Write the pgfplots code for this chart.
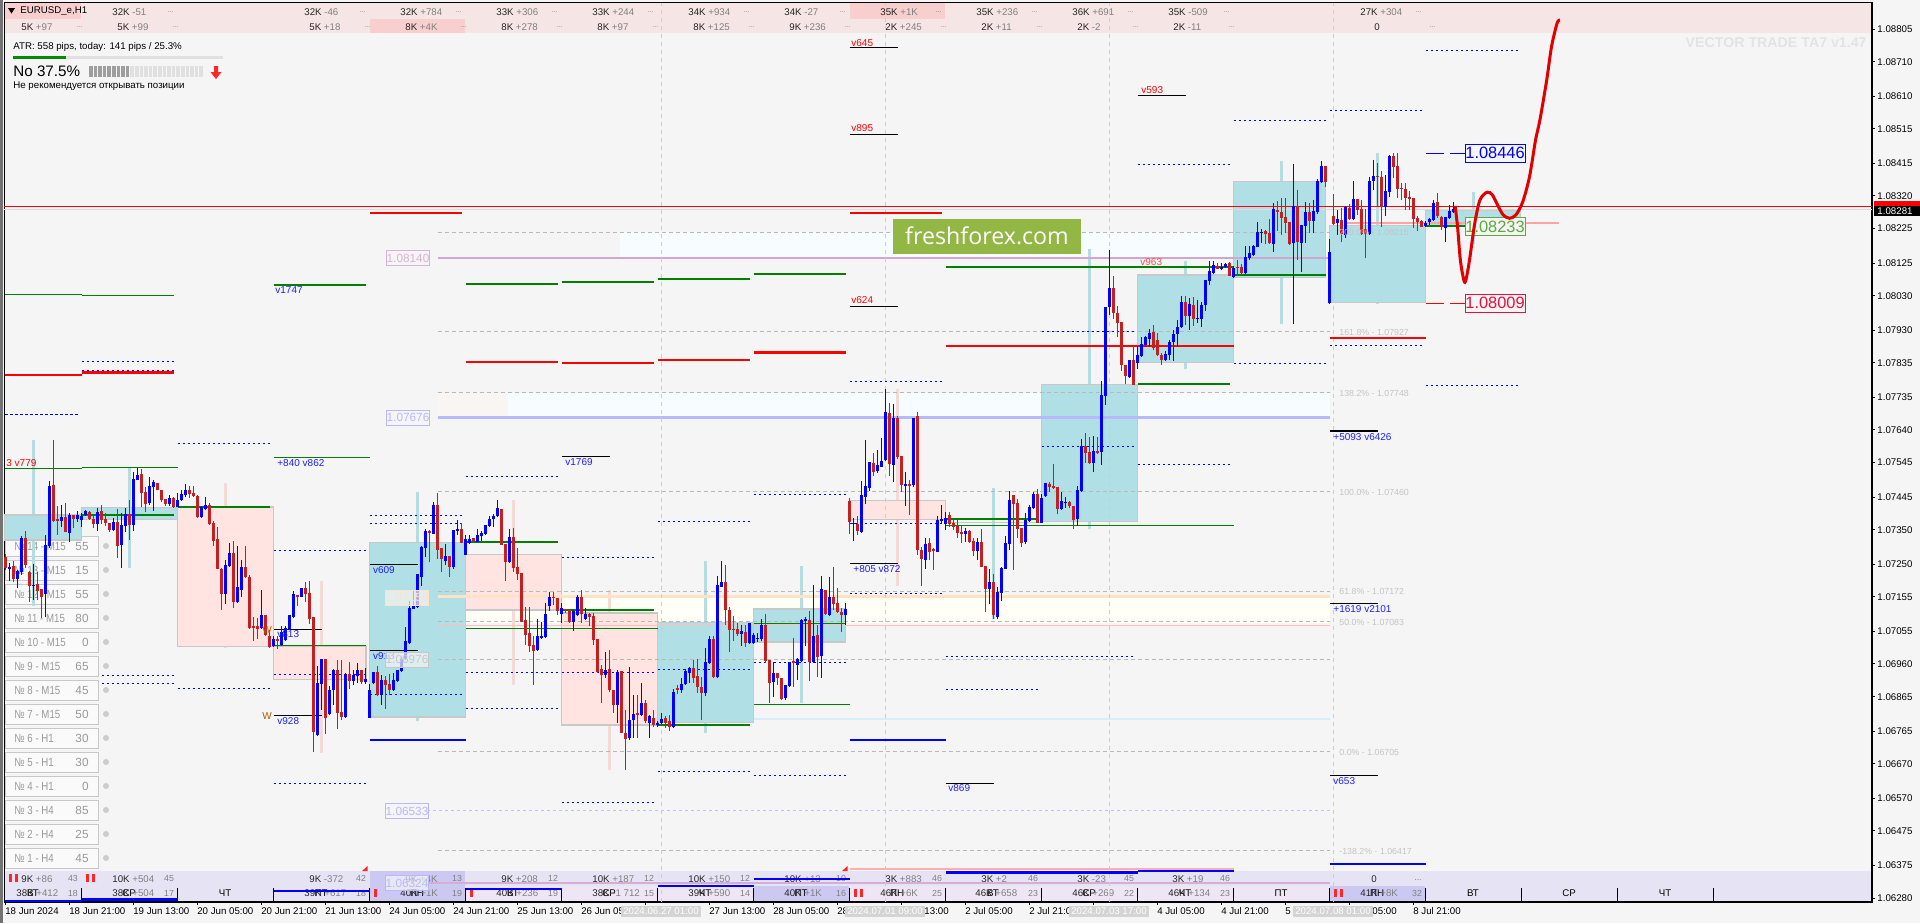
\documentclass[border=0pt]{standalone}
\usepackage{fontspec}
\setmainfont{Liberation Sans}
\newfontfamily\ffont{Open Sans}
\usepackage{pgfplots}
\usepackage{pgfplotstable}
\pgfplotsset{compat=1.18}

\definecolor{bg}{HTML}{F5F5F5}
\definecolor{panelt}{HTML}{F6E5E5}
\definecolor{panelh}{HTML}{F8CFCF}
\definecolor{panelb}{HTML}{E6E4F4}
\definecolor{panelc}{HTML}{EFE6F5}
\definecolor{panelv}{HTML}{CBC8F2}
\definecolor{teal}{HTML}{B0DFE5}
\definecolor{pinkbox}{HTML}{FFE4E1}
\definecolor{wteal}{HTML}{B4DDE2}
\definecolor{wpink}{HTML}{F6D8D4}
\definecolor{edge}{HTML}{C8C8C8}
\definecolor{barred}{HTML}{C4201F}
\definecolor{wickred}{HTML}{A52A2A}
\definecolor{gline}{HTML}{007F00}
\definecolor{fib}{HTML}{B8B8B8}
\definecolor{fibt}{HTML}{C4C4C4}
\definecolor{txtg}{HTML}{808080}
\definecolor{boxt}{HTML}{9A9A9A}
\definecolor{vtext}{HTML}{2020FF}
\definecolor{ffgreen}{HTML}{93B744}
\definecolor{tgreen}{HTML}{5BAA3C}
\definecolor{tred}{HTML}{E8103C}
\definecolor{palezone}{HTML}{F8F5F3}

% candles: bar index, then open high low close in points above 1.00000
\pgfplotstableread{
b o h l c
0 7272 7280 7233 7238
1 7236 7252 7202 7243
2 7245 7259 7199 7206
3 7206 7232 7180 7230
4 7228 7332 7219 7327
5 7327 7346 7238 7248
6 7228 7230 7141 7187
7 7187 7250 7146 7190
8 7193 7228 7146 7173
9 7177 7177 7093 7156
10 7163 7335 7097 7306
11 7303 7492 7296 7477
12 7480 7611 7373 7376
13 7381 7419 7335 7376
14 7376 7422 7359 7387
15 7387 7427 7344 7344
16 7342 7398 7315 7393
17 7392 7392 7354 7381
18 7381 7404 7373 7393
19 7378 7400 7359 7391
20 7393 7407 7391 7404
21 7403 7405 7378 7380
22 7380 7393 7354 7367
23 7367 7413 7347 7402
24 7404 7422 7367 7378
25 7381 7398 7361 7369
26 7371 7371 7344 7349
27 7349 7383 7347 7372
28 7372 7410 7269 7303
29 7306 7398 7240 7364
30 7361 7412 7344 7396
31 7396 7436 7320 7364
32 7364 7519 7346 7497
33 7495 7530 7495 7509
34 7512 7527 7417 7458
35 7460 7475 7403 7425
36 7427 7502 7422 7477
37 7473 7495 7404 7490
38 7485 7485 7465 7465
39 7465 7467 7432 7436
40 7439 7439 7419 7425
41 7425 7451 7419 7443
42 7443 7446 7412 7415
43 7415 7458 7415 7436
44 7436 7467 7434 7454
45 7451 7483 7446 7465
46 7465 7477 7441 7454
47 7456 7477 7444 7448
48 7448 7451 7383 7388
49 7386 7419 7383 7417
50 7410 7444 7407 7422
51 7422 7429 7364 7366
52 7369 7376 7303 7318
53 7322 7359 7237 7237
54 7236 7238 7117 7163
55 7163 7262 7135 7248
56 7245 7311 7243 7282
57 7282 7316 7122 7139
58 7139 7304 7136 7183
59 7175 7262 7156 7241
60 7241 7303 7209 7212
61 7212 7219 7061 7066
62 7071 7098 7028 7066
63 7071 7093 7033 7063
64 7066 7175 7064 7101
65 7103 7103 7040 7044
66 7042 7059 7006 7009
67 7011 7040 7009 7032
68 7032 7040 7004 7026
69 7015 7071 7013 7052
70 7030 7069 7028 7064
71 7062 7103 7059 7101
72 7098 7171 7095 7164
73 7161 7161 7129 7156
74 7154 7182 7154 7182
75 7182 7197 7141 7164
76 7166 7202 7077 7091
77 7097 7097 6703 6761
78 6754 6953 6751 6904
79 6902 6975 6827 6975
80 6975 6975 6757 6804
81 6814 6895 6812 6885
82 6883 6946 6841 6943
83 6943 6972 6772 6819
84 6820 6972 6796 6807
85 6805 6933 6802 6930
86 6930 6967 6888 6911
87 6911 6943 6899 6928
88 6924 6962 6906 6943
89 6943 6943 6902 6909
90 6907 6948 6902 6917
91 6804 6902 6804 6885
92 6904 6938 6902 6936
93 6937 6953 6867 6870
94 6870 6928 6841 6914
95 6914 6924 6830 6899
96 6902 6931 6870 6885
97 6885 6933 6883 6914
98 6911 6943 6909 6943
99 6941 6980 6938 6975
100 6975 7067 6972 7027
101 7020 7143 7018 7122
102 7120 7175 7120 7129
103 7126 7222 7124 7222
104 7214 7304 7188 7301
105 7296 7352 7270 7347
106 7345 7348 7255 7342
107 7338 7431 7338 7422
108 7422 7458 7265 7292
109 7296 7296 7226 7265
110 7258 7308 7249 7274
111 7274 7274 7214 7241
112 7241 7350 7235 7350
113 7347 7379 7335 7352
114 7352 7369 7311 7313
115 7278 7335 7278 7323
116 7313 7335 7311 7323
117 7326 7326 7311 7316
118 7314 7352 7314 7335
119 7333 7345 7316 7340
120 7338 7364 7335 7364
121 7361 7390 7359 7380
122 7380 7396 7357 7390
123 7390 7437 7386 7412
124 7410 7410 7306 7306
125 7309 7309 7201 7256
126 7256 7351 7253 7330
127 7328 7354 7226 7240
128 7241 7296 7204 7222
129 7224 7224 7083 7083
130 7088 7127 7015 7044
131 7049 7127 6996 7012
132 7015 7040 6899 6998
133 7001 7091 6999 7040
134 7036 7083 7035 7042
135 7038 7136 7035 7105
136 7129 7170 7114 7154
137 7156 7170 7132 7153
138 7151 7151 7103 7114
139 7105 7136 7078 7122
140 7120 7120 7107 7117
141 7117 7117 7080 7082
142 7083 7117 7057 7115
143 7103 7161 7101 7156
144 7156 7175 7080 7105
145 7091 7122 7088 7105
146 7105 7109 7069 7098
147 7100 7107 7015 7030
148 7033 7033 6933 6938
149 6945 6957 6846 6928
150 6928 6996 6920 6943
151 6946 7001 6880 6883
152 6885 6885 6817 6841
153 6841 6943 6788 6938
154 6940 6940 6759 6759
155 6759 6827 6652 6742
156 6744 6950 6739 6797
157 6797 6870 6744 6815
158 6817 6870 6744 6812
159 6812 6906 6809 6846
160 6846 6856 6790 6793
161 6788 6812 6746 6809
162 6803 6827 6776 6782
163 6783 6793 6776 6790
164 6788 6817 6786 6800
165 6803 6809 6773 6790
166 6793 6812 6764 6776
167 6776 6887 6773 6880
168 6889 6899 6873 6885
169 6885 6918 6875 6901
170 6901 6945 6899 6941
171 6933 6950 6904 6948
172 6948 6972 6904 6920
173 6925 6974 6875 6892
174 6892 6923 6797 6877
175 6875 7006 6867 6967
176 6964 7040 6962 7034
177 7034 7040 6919 6921
178 6921 7216 6919 7190
179 7185 7259 7185 7197
180 7197 7248 7073 7117
181 7117 7127 6996 7059
182 7062 7100 7027 7059
183 7062 7080 7040 7047
184 7047 7073 7012 7055
185 7054 7073 7009 7022
186 7022 7079 7020 7079
187 7022 7049 7020 7044
188 7033 7049 7023 7035
189 7032 7090 7026 7072
190 7072 7105 6964 6968
191 6972 6972 6848 6906
192 6908 6967 6865 6934
193 6933 6933 6899 6918
194 6919 6919 6854 6857
195 6860 6899 6854 6899
196 6896 6967 6894 6965
197 6969 7035 6894 6964
198 6957 6977 6914 6975
199 6968 7090 6965 7088
200 7086 7098 7011 7091
201 7088 7114 6912 6967
202 6967 7190 6964 7042
203 7044 7073 6921 6981
204 6983 7216 6919 7178
205 7175 7175 7103 7104
206 7103 7214 7101 7156
207 7156 7241 7117 7133
208 7137 7180 7109 7112
209 7112 7122 7054 7103
210 7101 7136 7072 7120
211 7433 7441 7339 7373
212 7368 7383 7318 7369
213 7368 7391 7335 7345
214 7344 7491 7341 7451
215 7446 7611 7424 7477
216 7472 7547 7463 7547
217 7544 7572 7507 7518
218 7521 7582 7516 7538
219 7533 7616 7533 7550
220 7552 7759 7551 7693
221 7689 7719 7506 7542
222 7538 7715 7490 7675
223 7675 7681 7557 7560
224 7564 7564 7459 7480
225 7477 7519 7420 7483
226 7483 7494 7393 7477
227 7479 7675 7475 7675
228 7680 7693 7276 7291
229 7291 7301 7186 7265
230 7262 7325 7236 7308
231 7312 7325 7262 7285
232 7293 7296 7233 7289
233 7286 7390 7286 7378
234 7376 7422 7370 7381
235 7368 7402 7349 7383
236 7393 7402 7359 7366
237 7370 7378 7349 7359
238 7362 7378 7327 7341
239 7343 7362 7312 7338
240 7338 7354 7314 7346
241 7347 7349 7312 7314
242 7317 7327 7274 7288
243 7288 7325 7262 7314
244 7315 7352 7241 7243
245 7245 7245 7112 7179
246 7179 7235 7134 7198
247 7198 7221 7092 7102
248 7097 7183 7092 7170
249 7167 7243 7144 7240
250 7236 7333 7236 7311
251 7308 7462 7291 7436
252 7451 7451 7233 7425
253 7428 7438 7327 7352
254 7356 7356 7301 7311
255 7314 7400 7308 7378
256 7375 7422 7372 7416
257 7413 7460 7410 7454
258 7454 7468 7369 7369
259 7369 7454 7369 7442
260 7448 7486 7445 7486
261 7483 7489 7459 7474
262 7477 7541 7468 7470
263 7474 7475 7396 7410
264 7411 7461 7408 7435
265 7427 7445 7413 7430
266 7432 7435 7413 7418
267 7419 7419 7352 7379
268 7381 7478 7361 7466
269 7464 7613 7462 7592
270 7592 7631 7545 7574
271 7576 7619 7542 7543
272 7543 7623 7518 7579
273 7579 7621 7570 7572
274 7576 7781 7539 7742
275 7739 7997 7713 7997
276 7997 8163 7974 8052
277 8052 8088 7963 7979
278 7981 7999 7911 7950
279 7954 7954 7810 7829
280 7829 7829 7773 7797
281 7793 7844 7790 7844
282 7844 7882 7771 7771
283 7836 7884 7818 7858
284 7855 7910 7853 7890
285 7887 7913 7881 7909
286 7905 7933 7880 7921
287 7924 7944 7873 7878
288 7902 7921 7855 7858
289 7858 7863 7829 7844
290 7844 7868 7842 7861
291 7858 7902 7842 7897
292 7895 7931 7841 7919
293 7919 7960 7882 7939
294 7938 8028 7936 8013
295 8011 8028 7945 7972
296 7970 8023 7931 8005
297 8003 8025 7942 7963
298 7964 8018 7950 7966
299 7963 8013 7939 8003
300 8002 8076 7986 8076
301 8074 8131 8062 8102
302 8097 8132 8095 8120
303 8117 8125 8107 8109
304 8108 8125 8105 8114
305 8113 8126 8110 8122
306 8125 8129 8086 8088
307 8083 8115 8081 8112
308 8114 8134 8091 8111
309 8114 8123 8086 8097
310 8095 8175 8093 8143
311 8140 8175 8134 8155
312 8149 8178 8147 8175
313 8172 8243 8172 8216
314 8212 8225 8183 8216
315 8217 8221 8181 8210
316 8213 8253 8181 8183
317 8181 8299 8157 8282
318 8278 8304 8217 8272
319 8274 8313 8207 8255
320 8259 8313 8212 8241
321 8243 8243 8178 8181
322 8184 8413 7948 8291
323 8290 8338 8134 8185
324 8183 8236 8100 8236
325 8233 8302 8183 8274
326 8274 8299 8212 8248
327 8248 8309 8212 8275
328 8274 8369 8268 8364
329 8361 8422 8357 8407
330 8407 8407 8347 8361
331 8008 8195 8006 8157
332 8262 8326 8236 8239
333 8242 8278 8207 8253
334 8250 8284 8185 8210
335 8207 8291 8197 8289
336 8285 8297 8250 8253
337 8253 8362 8250 8311
338 8311 8311 8265 8280
339 8282 8309 8207 8210
340 8224 8281 8141 8210
341 8210 8376 8207 8364
342 8364 8425 8338 8378
343 8378 8415 8289 8374
344 8375 8391 8229 8289
345 8289 8381 8262 8335
346 8332 8439 8316 8437
347 8436 8446 8371 8405
348 8407 8444 8315 8341
349 8342 8359 8309 8340
350 8340 8357 8278 8314
351 8317 8333 8280 8311
352 8314 8314 8228 8253
353 8255 8262 8217 8243
354 8246 8250 8229 8231
355 8233 8246 8231 8241
356 8245 8255 8236 8253
357 8250 8309 8249 8299
358 8303 8328 8255 8262
359 8260 8262 8221 8229
360 8228 8259 8185 8259
361 8256 8294 8254 8277
362 8274 8303 8272 8281
}\candles

% horizontal levels: from bar, to bar, price in points
\pgfplotstableread{
a b p
-0.1 18.6 7685
43 66 7601
115 138 7505
91 114 7392
91 114 7369
67 90 7290
24 42 6927
24 42 6904
19 42 7840
19 42 7814
67 90.6 6930
43 66 6889
91 114 6872
115 138 6936
115 138 6831
67 90 6613
163 186 7375
139 162 7270
139 162 6936
163 186 6945
163 186 6648
139 162 6558
187 210 7453
187 210 6965
187 210 6637
211 234 7369
211 234 7165
235 282 6982
235 258 6886
211 234 7781
307 330 8540
283 306 8412
307 330 7834
259 282 7927
259 282 7592
283 306 7540
331 354 7886
355 378 8744
331 354 8567
355 378 7770
}\dashblue
\pgfplotstableread{
a b p
108 331 8215
108 331 7927
108 331 7748
108 331 7460
108 331 7172
108 331 7083
108 331 6973
108 331 6705
108 331 6417
}\fiblines
\pgfplotstableread{
a b p
0 19 7529
19 43 7531
67 91 7561
67 90 7014
115 163 7064
187 211 6843
187 210 7078
235 307 7363
0 19 8035
19 42 8032
}\greenthin
\pgfplotstableread{
a b p
19 42 7393
43 66 7417
115 138 7314
139 162 7117
163 186 6783
235 258 7381
235 307 8114
283 306 7773
307 330 8090
355 365 8233
67 90 8061
115 138 8064
139 162 8071
163 186 8079
187 210 8093
}\greenthick
\pgfplotstableread{
a b p
0 19 7800
19 42 7807
91 114 8270
115 138 7837
139 162 7835
163 186 7843
187 210 7865
211 234 8270
235 307 7884
331 355 7907
}\redthick
\pgfplotstableread{
a b p
91 115 6739
211 235 6739
331 355 6380
0 19 6272
19 43 6276
67 91 6301
115 139 6306
163 187 6316
187 211 6335
235 283 6354
283 307 6358
}\bluethick
\pgfplotstableread{
a b p
211 223 8750
211 223 8498
283 295 8612
211 223 8000
139 151 7564
91 103 7250
91 103 7000
67 79 7061
67 79 6811
211 223 7251
235 247 6613
331 343 7637
331 343 7136
331 343 6637
}\blackshort
% wide candles of the higher timeframe, bar, high, low
\pgfplotstableread{
b h l
7 7611 7128
31 7530 7239
103 7461 6795
175 7260 6760
199 7245 6847
247 7471 7091
271 8166 7352
295 8132 7817
319 8422 7948
343 8446 8006
367 8332 8180
}\tealwicks
\pgfplotstableread{
b h l
55 7486 7006
79 7201 6701
127 7436 6899
151 7175 6652
223 7760 7187
}\pinkwicks
% forecast curve
\pgfplotstableread{
x y
362.4 8291
363 8231
363.7 8134
364.6 8074
365.1 8076
366 8134
367.3 8240
368.6 8308
370.4 8331
371.7 8323
373 8294
374.4 8265
376 8255
377.6 8265
379.3 8303
381 8376
382.5 8482
383.6 8541
385.3 8657
386.5 8754
387.9 8822
388.6 8831
}\forecast

\newcommand\levels[2]{\addplot[draw=none,no markers,forget plot,
  error bars/x dir=plus,error bars/x explicit,error bars/error mark=none,
  error bars/error bar style={line cap=butt,#1}]
  table[x=a,y=p,x error plus expr=\thisrow{b}-\thisrow{a}] {#2};}
\newcommand\hlev[4]{\addplot[forget plot,line cap=butt,#1] coordinates {(#2,#4)(#3,#4)};}
\newcommand\vdsh[1]{\addplot[forget plot,color=edge!90!white,line width=.5pt,dash pattern=on 2pt off 2pt] coordinates {(#1,6269)(#1,8881)};}
\newcommand\rect[6]{\addplot[forget plot,draw=#1,fill=#2,line width=.6pt] coordinates {(#3,#5)(#4,#5)(#4,#6)(#3,#6)} --cycle;}
\newcommand\hwicks[2]{\addplot[draw=none,no markers,forget plot,
  error bars/y dir=plus,error bars/y explicit,error bars/error mark=none,
  error bars/error bar style={line cap=butt,draw=#1,line width=1.4pt}]
  table[x=b,y=l,y error plus expr=\thisrow{h}-\thisrow{l}] {#2};}

\newcommand\smalltxt{\fontsize{4.85}{5.5}\selectfont}
\newcommand\boxtxt{\fontsize{5.9}{6.5}\selectfont}
\newcommand\topcell[4]{\node[anchor=west,inner sep=0pt] at (#1,#2) {\smalltxt\textcolor{black!85}{#3} \textcolor{txtg}{#4}};
  \node[anchor=west,inner sep=0pt,text=txtg] at (#1+55,#2) {\fontsize{3.6}{4}\selectfont ...};}
\newcommand\botcell[5]{\node[anchor=west,inner sep=0pt] at (#1,#2) {\smalltxt\textcolor{black!85}{#3} \textcolor{txtg}{#4}};}
\newcommand\num[3]{\node[inner sep=0pt,text=txtg] at (#1,#2) {\fontsize{4.4}{5}\selectfont #3};}
\newcommand\pausebar[2]{\fill[red!85!white] (#1,#2-4) rectangle (#1+3,#2+4);}
\newcommand\fibl[2]{\node[anchor=west,inner sep=0pt,text=fibt] at (1339,#1) {\fontsize{4.4}{5}\selectfont #2};}
\newcommand\vlab[3]{\node[anchor=west,inner sep=0pt,text=#1] at (#2) {\fontsize{5}{6}\selectfont #3};}
\newcommand\pricebox[4]{\node[draw=#1,line width=.5pt,fill=bg,minimum width=30pt,minimum height=9pt,inner sep=0pt,text=#2] at (#3) {\fontsize{8.2}{9}\selectfont #4};}
\newcommand\hlab[3]{\node[draw=#1,fill=bg,fill opacity=.7,text opacity=1,text=#1,line width=.5pt,minimum width=21pt,minimum height=7.5pt,inner sep=0pt] at (#2) {\fontsize{5.9}{6.5}\selectfont #3};}
\newcommand\datetag[2]{\node[fill=black!17,text=white,minimum width=40pt,minimum height=5.5pt,inner sep=0pt] at (#1,911.5) {\smalltxt #2};}

\begin{document}
\begin{tikzpicture}
\path[use as bounding box] (0,0) rectangle (960pt,-461.5pt);
\begin{scope}[x=.5pt,y=-.5pt]
\fill[bg] (0,0) rectangle (1920,923);
\fill[black!55] (0,0) rectangle (2.5,923);
% upper panel
\fill[panelt] (4.5,3) rectangle (1872,33);
\fill[panelh] (5,3) rectangle (81,19);
\fill[panelh] (850,3) rectangle (945,19);
\fill[panelh] (370,19) rectangle (465,33);
\fill[black] (8,8) -- (15,8) -- (11.5,13.5) -- cycle;
\node[anchor=west,inner sep=0pt] at (20,11.5) {\smalltxt EURUSD\_e,H1};
\foreach \x/\a/\b in {112/32K/-51,304/32K/-46,400/32K/+784,496/33K/+306,592/33K/+244,688/34K/+934,784/34K/-27,880/35K/+1K,976/35K/+236,1072/36K/+691,1168/35K/-509,1360/27K/+304}{\topcell{\x}{11.7}{\a}{\b}}
\foreach \x/\a/\b in {21/5K/+97,117/5K/+99,309/5K/+18,405/8K/+4K,501/8K/+278,597/8K/+97,693/8K/+125,789/9K/+236,885/2K/+245,981/2K/+11,1077/2K/-2,1173/2K/-11}{\topcell{\x}{26.7}{\a}{\b}}
\topcell{1374}{26.7}{0}{}
% info block
\node[anchor=west,inner sep=0pt] at (13,47) {\smalltxt ATR: 558 pips, today: 141 pips / 25.3\%};
\fill[black!12] (13,56) rectangle (223,59);
\fill[green!55!black] (13,56) rectangle (66,59);
\node[anchor=west,inner sep=0pt] at (13,71.5) {\fontsize{7.6}{8}\selectfont No 37.5\%};
\foreach \i in {0,...,24}{\pgfmathsetmacro\xa{89+4.6*\i}
  \ifnum\i<9 \fill[black!38] (\xa,66) rectangle (\xa+3.6,77); \else \fill[black!12] (\xa,66) rectangle (\xa+3.6,77); \fi}
\fill[red!85!white] (214,66) rectangle (218,72) (210.5,72) -- (221.5,72) -- (216,79) -- cycle;
\node[anchor=west,inner sep=0pt] at (13,86) {\smalltxt Не рекомендуется открывать позиции};
\node[anchor=east,inner sep=0pt,text=black!11] at (1867,43) {\fontsize{7.1}{8}\selectfont\bfseries VECTOR TRADE TA7 v1.47};
% lower panel
\fill[panelb] (4.5,871) rectangle (1872,902);
\fill[panelc] (370,886) rectangle (1333,902);
\fill[panelv] (370,871) rectangle (465,901);
\fill[panelv] (754,886) rectangle (849,901);
\fill[panelv] (1330,886) rectangle (1425,901);
\foreach \x in {81.5,177.5,...,1714}{\draw[black,line width=.5pt] (\x,888) -- (\x,902);}
\foreach \x/\t in {33/ВТ,129/СР,225/ЧТ,321/ПТ,417/ПН,513/ВТ,609/СР,705/ЧТ,801/ПТ,897/ПН,993/ВТ,1089/СР,1185/ЧТ,1281/ПТ,1377/ПН,1473/ВТ,1569/СР,1665/ЧТ}{\node[inner sep=0pt] at (\x,892.7) {\smalltxt\t};}
\botcell{21}{878.7}{9K}{+86}{0}\num{73}{878.7}{43}
\botcell{112}{878.7}{10K}{+504}{0}\num{169}{878.7}{45}
\botcell{309}{878.7}{9K}{-372}{0}\num{361}{878.7}{42}
\botcell{405}{878.7}{9K}{+4K}{0}\num{457}{878.7}{13}
\botcell{501}{878.7}{9K}{+208}{0}\num{553}{878.7}{12}
\botcell{592}{878.7}{10K}{+187}{0}\num{649}{878.7}{12}
\botcell{688}{878.7}{10K}{+150}{0}\num{745}{878.7}{12}
\botcell{784}{878.7}{10K}{+13}{0}\num{841}{878.7}{10}
\botcell{885}{878.7}{3K}{+883}{0}\num{937}{878.7}{46}
\botcell{981}{878.7}{3K}{+2}{0}\num{1033}{878.7}{46}
\botcell{1077}{878.7}{3K}{-23}{0}\num{1129}{878.7}{45}
\botcell{1172}{878.7}{3K}{+19}{0}\num{1225}{878.7}{46}
\botcell{1371}{878.7}{0}{}{0}\num{1418}{880}{...}
\botcell{16}{893}{38K}{+412}{0}\num{73}{893}{18}
\botcell{112}{893}{38K}{+504}{0}\num{169}{893}{17}
\botcell{304}{893}{39K}{+617}{0}\num{361}{893}{18}
\botcell{400}{893}{40K}{+1K}{0}\num{457}{893}{19}
\botcell{496}{893}{40K}{+236}{0}\num{553}{893}{19}
\botcell{592}{893}{38K}{-1 712}{0}\num{649}{893}{15}
\botcell{688}{893}{39K}{+590}{0}\num{745}{893}{14}
\botcell{784}{893}{40K}{+1K}{0}\num{841}{893}{16}
\botcell{880}{893}{46K}{+6K}{0}\num{937}{893}{25}
\botcell{975}{893}{46K}{+658}{0}\num{1033}{893}{23}
\botcell{1072}{893}{46K}{+269}{0}\num{1129}{893}{22}
\botcell{1168}{893}{46K}{+134}{0}\num{1225}{893}{23}
\botcell{1360}{893}{41K}{+8K}{0}\num{1417}{893}{32}
\foreach \x/\r in {9/878,14.5/878,86/878,91.5/878,374/893,470/893,854/893,859.5/893,1334/893,1339.5/893}{\pausebar{\x}{\r}}
\fill[red!85!white] (367.5,866) -- (367.5,871) -- (362,871) -- cycle (847.5,866) -- (847.5,871) -- (842,871) -- cycle;
% signal table
\foreach \n/\t/\v [count=\i from 0] in {14/M15/55,13/M15/15,12/M15/55,11/M15/80,10/M15/0,9/M15/65,8/M15/45,7/M15/50,6/H1/30,5/H1/30,4/H1/0,3/H4/85,2/H4/25,1/H4/45}{
  \pgfmathsetmacro\yy{546+24*\i}
  \draw[edge,fill=black!2,line width=.5pt] (5,\yy-10) rectangle (98,\yy+10);
  \node[anchor=west,inner sep=0pt,text=boxt] at (14,\yy) {\scalebox{.82}[1]{\boxtxt № \n\ - \t}};
  \node[anchor=east,inner sep=0pt,text=boxt] at (89,\yy) {\boxtxt \v};
  \fill[black!20] (106,\yy) circle (3);}
\end{scope}

\begin{axis}[at={(2.25pt,-451pt)},anchor=south west,scale only axis,
  width=933.75pt,height=449.75pt,clip=false,
  xmin=-0.25,xmax=466.625,ymin=6268.4,ymax=8882,
  axis line style={line width=.6pt,black},
  tick style={black,line width=.5pt},major tick length=1.5pt,tick align=outside,
  xtick pos=bottom,ytick pos=right,yticklabel pos=right,
  xtick={0,16,...,352},
  xticklabels={18 Jun 2024,18 Jun 21:00,19 Jun 13:00,20 Jun 05:00,20 Jun 21:00,21 Jun 13:00,24 Jun 05:00,24 Jun 21:00,25 Jun 13:00,26 Jun 05:00,26 Jun 21:00,27 Jun 13:00,28 Jun 05:00,28 Jun 21:00,1 Jul 13:00,2 Jul 05:00,2 Jul 21:00,3 Jul 13:00,4 Jul 05:00,4 Jul 21:00,5 Jul 13:00,8 Jul 05:00,8 Jul 21:00},
  ytick={8805,8710,8610,8515,8415,8320,8225,8125,8030,7930,7835,7735,7640,7545,7445,7350,7250,7155,7055,6960,6865,6765,6670,6570,6475,6375,6280},
  yticklabels={1.08805,1.08710,1.08610,1.08515,1.08415,1.08320,1.08225,1.08125,1.08030,1.07930,1.07835,1.07735,1.07640,1.07545,1.07445,1.07350,1.07250,1.07155,1.07055,1.06960,1.06865,1.06765,1.06670,1.06570,1.06475,1.06375,1.06280},
  xticklabel style={font=\smalltxt,anchor=north west,inner sep=0pt,yshift=-1.2pt,xshift=-.3pt},
  yticklabel style={font=\smalltxt,anchor=west,inner sep=0pt,xshift=1pt},
]
% bands
\rect{none}{cyan!3!white}{153.6}{331}{8140}{8214}
\rect{none}{cyan!3!white}{125.6}{331}{7676}{7747}
\rect{none}{palezone}{108}{125.6}{7676}{7747}
\rect{none}{yellow!3!white}{108}{331}{7080}{7156}
% higher timeframe wicks and boxes
\hwicks{wteal}{\tealwicks}
\hwicks{wpink}{\pinkwicks}
\rect{edge}{teal}{-0.25}{19}{7320}{7393}
\rect{edge}{teal}{19}{43}{7381}{7414}
\rect{edge}{pinkbox}{43}{67}{7010}{7416}
\rect{edge}{pinkbox}{67}{90.1}{6916}{7012}
\rect{edge}{teal}{91}{115}{6806}{7312}
\rect{edge}{pinkbox}{115}{139}{7117}{7279}
\rect{edge}{pinkbox}{139}{163}{6783}{7108}
\rect{edge}{teal}{163}{187}{6789}{7080}
\rect{edge}{teal}{187}{210}{7024}{7120}
\rect{edge}{pinkbox}{211}{235}{7381}{7434}
\rect{edge}{teal}{259}{283}{7373}{7773}
\rect{edge}{teal}{283}{307}{7837}{8090}
\rect{edge}{teal}{307}{330}{8084}{8363}
\rect{edge}{teal}{331}{355}{8010}{8233}
\rect{edge}{teal}{355}{378.7}{8233}{8278}
\hlev{color=edge,line width=.9pt}{235}{259}{7371}
% horizontal zones
\hlev{color=violet!35!white,line width=1.1pt}{108}{331}{8140}
\hlev{color=blue!28!white,line width=1.1pt}{108}{331}{7676}
\hlev{color=orange!22!white,line width=1.1pt}{108}{331}{7156}
\hlev{color=red!25!white,line width=.6pt}{108}{331}{7072}
\hlev{color=cyan!18!white,line width=1.1pt}{187}{331}{6800}
\hlev{color=violet!32!white,line width=1.1pt}{105.4}{331}{6324}
\hlev{color=blue!25!white,line width=.5pt,dash pattern=on 1.5pt off 1.5pt}{105.4}{331}{6533}
\hlev{color=pink!85!red,line width=1pt}{335}{388.4}{8242}
\levels{draw=fib,line width=.5pt,dash pattern=on 2pt off 1.5pt}{\fiblines}
\vdsh{164}\vdsh{220}\vdsh{276}\vdsh{332}
\hlev{color=black!14,line width=.6pt}{-0.25}{466.6}{8281}
\hlev{color=red,line width=.6pt}{-0.25}{466.6}{8290}
% levels
\levels{draw=blue,line width=.5pt,dash pattern=on 1.4pt off 1.1pt}{\dashblue}
\levels{draw=gline,line width=.5pt}{\greenthin}
\levels{draw=gline,line width=1.1pt}{\greenthick}
\levels{draw=red,line width=1.1pt}{\redthick}
\hlev{color=red!32!white,line width=1pt}{211}{307}{6364}
\levels{draw=blue,line width=1.1pt}{\bluethick}
\levels{draw=black,line width=.55pt}{\blackshort}
\hlev{color=blue,line width=.5pt}{355}{359.5}{8444}
\hlev{color=blue,line width=.5pt}{361}{365}{8444}
\hlev{color=red,line width=.5pt}{355}{359.5}{8008}
\hlev{color=red,line width=.5pt}{361}{365}{8008}
% candles: wicks first, then bodies
\addplot[draw=none,no markers,forget plot,
  error bars/y dir=both,error bars/y explicit,error bars/error mark=none,
  error bars/error bar style={draw=blue,line width=.5pt,line cap=butt}]
  table[x expr={\thisrow{c}>=\thisrow{o} ? \thisrow{b} : nan},y=o,
  y error plus expr=\thisrow{h}-\thisrow{o},y error minus expr=\thisrow{o}-\thisrow{l}] {\candles};
\addplot[draw=none,no markers,forget plot,
  error bars/y dir=both,error bars/y explicit,error bars/error mark=none,
  error bars/error bar style={draw=wickred,line width=.5pt,line cap=butt}]
  table[x expr={\thisrow{c}<\thisrow{o} ? \thisrow{b} : nan},y=o,
  y error plus expr=\thisrow{h}-\thisrow{o},y error minus expr=\thisrow{o}-\thisrow{l}] {\candles};
\addplot[draw=none,no markers,forget plot,
  error bars/y dir=plus,error bars/y explicit,error bars/error mark=none,
  error bars/error bar style={draw=blue,line width=1.5pt,line cap=butt}]
  table[x expr={\thisrow{c}>=\thisrow{o} ? \thisrow{b} : nan},y=o,
  y error plus expr=\thisrow{c}-\thisrow{o}] {\candles};
\addplot[draw=none,no markers,forget plot,
  error bars/y dir=minus,error bars/y explicit,error bars/error mark=none,
  error bars/error bar style={draw=barred,line width=1.5pt,line cap=butt}]
  table[x expr={\thisrow{c}<\thisrow{o} ? \thisrow{b} : nan},y=o,
  y error minus expr=\thisrow{o}-\thisrow{c}] {\candles};
\end{axis}

\begin{scope}[x=.5pt,y=-.5pt]
% level captions
\foreach \r/\t in {232/200.0\% - 1.08215,332/161.8\% - 1.07927,393/138.2\% - 1.07748,492/100.0\% - 1.07460,591/61.8\% - 1.07172,622/50.0\% - 1.07083,752/0.0\% - 1.06705,851/-138.2\% - 1.06417}{\fibl{\r}{\t}}
\vlab{red}{851,43}{v645}
\vlab{red}{851,128}{v895}
\vlab{red}{1141,90}{v593}
\vlab{red}{851,300}{v624}
\vlab{red!70!white}{1140,261.7}{v963}
\vlab{red}{6,462.7}{3 v779}
\vlab{vtext}{275,290}{v1747}
\vlab{vtext}{277,462.7}{+840 v862}
\vlab{vtext}{565,461.7}{v1769}
\vlab{vtext}{372.7,570}{v609}
\vlab{vtext}{372.7,656}{v913}
\vlab{vtext}{277,634.3}{v813}
\vlab{vtext}{277,720.7}{v928}
\vlab{vtext}{853,569.3}{+805 v872}
\vlab{vtext}{948,788}{v869}
\vlab{vtext}{1333,436.7}{+5093 v6426}
\vlab{vtext}{1333,608.7}{+1619 v2101}
\vlab{vtext}{1333,780.7}{v653}
\vlab{orange!70!black}{262,630}{W}
\vlab{orange!70!black}{262,715.7}{W}
% line tags on the left
\hlab{violet!30!white}{408,258}{1.08140}
\hlab{blue!28!white}{408,417.7}{1.07676}
\hlab{orange!22!white}{407,597.7}{1.07156}
\hlab{black!22}{407,659.7}{1.06976}
\hlab{blue!28!white}{407,811}{1.06533}
\hlab{blue!28!white}{407,883}{1.06324}
% forecast targets
\pricebox{blue}{blue}{1495,153}{1.08446}
\pricebox{tgreen}{tgreen}{1495,226.7}{1.08233}
\pricebox{tred}{tred}{1495,303.3}{1.08009}
% brand
\fill[ffgreen] (893,219) rectangle (1080.7,253.7);
\node[text=white,inner sep=0pt] at (987,236) {\ffont\fontsize{11.6}{14}\selectfont freshforex.com};
% date tags
\datetag{661}{2024.06.27 01:00}
\datetag{885}{2024.07.01 09:00}
\datetag{1109}{2024.07.03 17:00}
\datetag{1333}{2024.07.08 01:00}
% price tags
\fill[red] (1874,201) rectangle (1920,207);
\fill[black] (1874,206) rectangle (1920,215.7);
\node[text=white,inner sep=0pt] at (1895,210.7) {\smalltxt 1.08281};
\end{scope}

% forecast goes on top of the target boxes
\begin{axis}[at={(2.25pt,-451pt)},anchor=south west,scale only axis,
  width=933.75pt,height=449.75pt,clip=false,hide axis,
  xmin=-0.25,xmax=466.625,ymin=6268.4,ymax=8882]
\addplot[forget plot,smooth,color=red!88!black,line width=1.5pt] table[x=x,y=y] {\forecast};
\end{axis}
\end{tikzpicture}
\end{document}
